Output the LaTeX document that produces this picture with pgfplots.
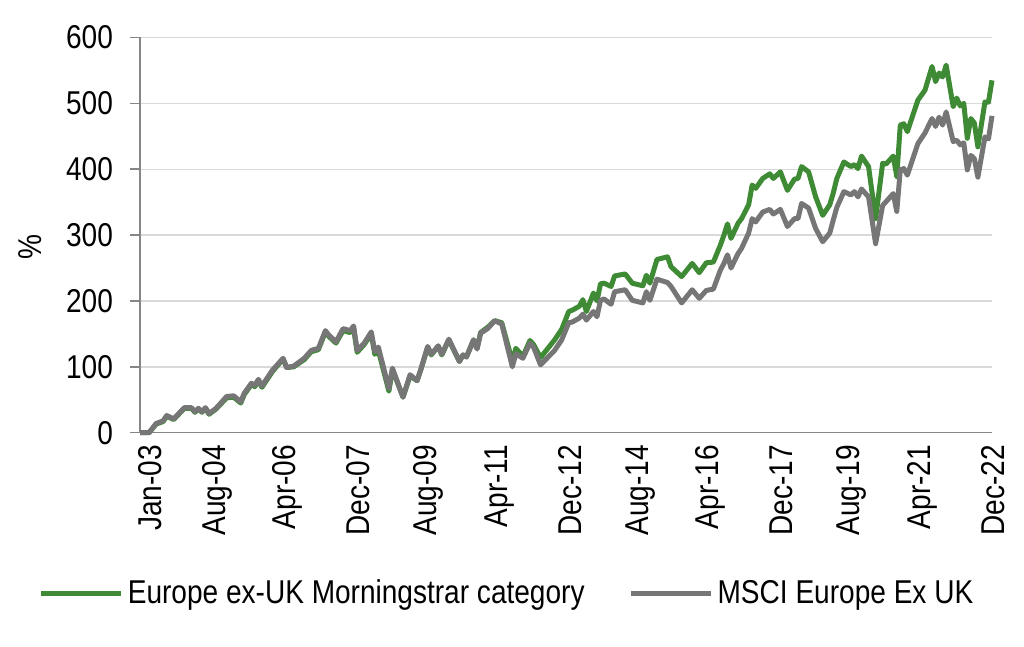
\documentclass[border=0pt]{standalone}
\usepackage{fontspec}
\setmainfont{Liberation Sans}[FakeStretch=0.85]
\usepackage{pgfplots}
\usepackage{pgfplotstable}
\pgfplotsset{compat=1.18}

\definecolor{mgreen}{HTML}{3E8A35}
\definecolor{mgray}{HTML}{767676}
\definecolor{gridc}{HTML}{D9D9D9}
\definecolor{axisc}{HTML}{868686}
\newcommand\chartfont{\fontsize{16.5}{19}\selectfont}

% month index (0 = Jan-03), Morningstar category, MSCI Europe ex UK
\pgfplotstableread{
m     cat   msci
-0.5  0     0
2     0     0
4     13    14
6     17    18
7     25    26
9     20    21
12    37    38
14    37    38
15    31    32
16    36    37
17    31    32
18    37    38
19    28    29
21    36    37
24    53    55
26    54    56
28    45    47
29    58    60
31    73    75
32    70    72
33    79    81
34    69    71
37    93    95
40    112   113
41    99    99
43    100   101
46    111   113
48    123   125
50    126   128
52    153   155
53    146   148
55    136   138
57    155   158
59    152   155
60    158   162
61    122   125
63    134   136
65    150   153
66    119   123
67    125   130
70    63    67
71    96    98
74    54    54
76    86    88
78    79    79
79    95    95
81    130   131
82    118   119
84    131   132
85    118   119
87    141   142
90    108   108
91    118   118
92    115   115
94    141   141
95    128   127
96    152   151
98    160   158
100   170   170
102   167   165
105   108   100
106   128   120
108   116   113
110   140   136
111   134   130
113   114   103
117   141   125
119   157   141
121   184   167
122   186   168
124   192   174
125   202   180
126   184   171
128   212   184
129   200   176
130   226   201
131   227   203
133   222   195
134   238   214
137   241   217
139   227   201
142   223   197
143   239   214
144   227   201
146   263   233
149   267   228
150   252   222
153   237   197
156   257   217
158   243   204
160   258   216
162   259   218
164   285   247
165   300   257
166   317   270
167   295   250
169   318   272
170   325   280
172   346   303
173   376   325
174   371   320
176   386   335
178   393   339
179   386   332
181   396   339
183   368   313
185   385   325
186   386   325
187   404   348
189   396   341
191   358   310
193   330   290
195   346   303
196   364   323
197   386   342
199   411   366
201   404   361
202   407   366
203   401   358
204   420   370
206   404   358
208   325   287
210   409   345
211   408   351
213   420   363
214   389   336
215   467   399
216   469   401
217   457   391
220   505   439
222   520   455
224   556   477
225   533   465
226   546   479
227   540   467
228   558   487
230   495   442
231   508   444
232   496   437
233   500   440
234   447   399
235   477   421
236   470   416
237   434   388
239   502   449
240   502   446
241   535   481
}\datatable

\begin{document}
\begin{tikzpicture}
\useasboundingbox (0,0) rectangle (512pt,323.5pt);
\begin{axis}[
  at={(70pt,107.15pt)}, anchor=south west,
  width=426pt, height=197.6pt, scale only axis,
  xmin=-0.57, xmax=241, ymin=0, ymax=600,
  axis x line=bottom, axis y line=left,
  axis line style={-, draw=axisc, line width=0.8pt},
  xtick={0,19,39,59,79,99,119,139,159,179,199,219,239},
  xticklabels={Jan-03,Aug-04,Apr-06,Dec-07,Aug-09,Apr-11,Dec-12,Aug-14,Apr-16,Dec-17,Aug-19,Apr-21,Dec-22},
  xtick style={draw=none},
  ytick={0,100,...,600},
  ytick style={draw=axisc, line width=0.8pt},
  tick align=outside, major tick length=5pt,
  ymajorgrids, grid style={draw=gridc, line width=0.7pt},
  ticklabel style={font=\chartfont},
  xticklabel style={rotate=90, anchor=east, inner sep=1pt, yshift=-4pt},
  yticklabel style={xshift=-5pt},
  /pgf/number format/assume math mode=true,
  ylabel={\%}, ylabel style={font=\chartfont, at={(axis description cs:-0.129,0.47)}, anchor=center},
  clip=false,
  legend style={at={(axis description cs:0.432,-0.406)}, anchor=center, draw=none, fill=none,
    legend columns=2, font=\chartfont, /tikz/every even column/.append style={column sep=20pt}},
  legend image code/.code={\draw[#1, line width=2.5pt] (0pt,0pt) -- (40pt,0pt);},
]
\addplot[mgreen, line width=2.5pt, line join=round] table[x=m, y=cat] {\datatable};
\addlegendentry{Europe ex-UK Morningstrar category}
\addplot[mgray, line width=2.5pt, line join=round] table[x=m, y=msci] {\datatable};
\addlegendentry{MSCI Europe Ex UK}
\end{axis}
\end{tikzpicture}
\end{document}
